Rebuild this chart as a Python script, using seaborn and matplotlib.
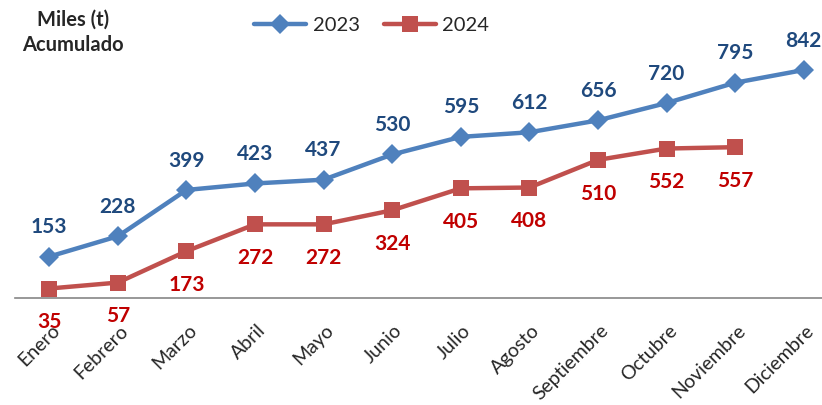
import pandas as pd
import matplotlib.pyplot as plt
import matplotlib.transforms as mtransforms
import numpy as np
import seaborn as sns

months = ["Enero", "Febrero", "Marzo", "Abril", "Mayo", "Junio", "Julio",
          "Agosto", "Septiembre", "Octubre", "Noviembre", "Diciembre"]
vals_2023 = [153, 228, 399, 423, 437, 530, 595, 612, 656, 720, 795, 842]
vals_2024 = [35, 57, 173, 272, 272, 324, 405, 408, 510, 552, 557, np.nan]

blue, blue_txt = "#4F81BD", "#1F497D"
red, red_txt = "#C0504D", "#C00000"

df = pd.DataFrame({
    "mes": list(range(len(months))) * 2,
    "valor": vals_2023 + vals_2024,
    "año": ["2023"] * 12 + ["2024"] * 12,
})

sns.set_style("white")
plt.rcParams["font.family"] = ["Lato", "DejaVu Sans"]

fig = plt.figure(figsize=(8.22, 4.05), dpi=100)
ax = fig.add_axes([15 / 822, 107 / 405, 823 / 822, 243.7 / 405])

sns.lineplot(data=df, x="mes", y="valor", hue="año", style="año",
             markers={"2023": "D", "2024": "s"}, dashes=False,
             palette={"2023": blue, "2024": red}, linewidth=3.2,
             markersize=10, markeredgewidth=0, ax=ax, legend=False)
for ln in ax.lines:
    if ln.get_marker() == "s":
        ln.set_markersize(12)

ax.set_xlim(-0.5, 11.5)
ax.set_ylim(0, 900)
ax.set_xlabel("")
ax.set_ylabel("")
ax.set_yticks([])
for s in ["top", "right", "left"]:
    ax.spines[s].set_visible(False)
ax.spines["bottom"].set_color("#868686")
ax.spines["bottom"].set_linewidth(1.2)

ax.set_xticks(range(len(months)))
ax.set_xticklabels(months, rotation=45, ha="right", rotation_mode="anchor",
                   fontsize=14)
ax.tick_params(axis="x", length=0, pad=17)
off = mtransforms.ScaledTranslation(1 / 72, 0, fig.dpi_scale_trans)
for lbl in ax.get_xticklabels():
    lbl.set_transform(lbl.get_transform() + off)

for i, v in enumerate(vals_2023):
    ax.annotate(f"{v}", (i, v), xytext=(0, 14), textcoords="offset points",
                ha="center", va="bottom", fontsize=15, fontweight="bold",
                color=blue_txt, annotation_clip=False)
for i, v in enumerate(vals_2024):
    if np.isnan(v):
        continue
    ax.annotate(f"{int(v)}", (i, v), xytext=(0, -17), textcoords="offset points",
                ha="center", va="top", fontsize=15, fontweight="bold",
                color=red_txt, annotation_clip=False)

fig.text(73 / 822, 1 - 32 / 405, "Miles (t)\nAcumulado", ha="center",
         va="center", fontsize=14.5, fontweight="bold", linespacing=1.35)

handles = [plt.Line2D([], [], color=blue, marker="D", lw=3.2, ms=10, mew=0),
           plt.Line2D([], [], color=red, marker="s", lw=3.2, ms=12, mew=0)]
fig.legend(handles, ["2023", "2024"], loc="center left",
           bbox_to_anchor=(236 / 822, 1 - 25 / 405), ncol=2, frameon=False,
           fontsize=14.5, handlelength=2.6, columnspacing=1.2, handletextpad=0.3)

fig.savefig("out.png", dpi=100)
